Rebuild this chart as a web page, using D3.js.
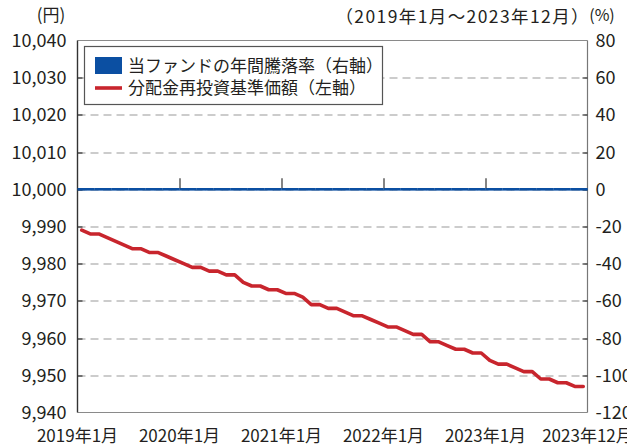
<!DOCTYPE html>
<html>
<head>
<meta charset="utf-8">
<script src="https://cdn.jsdelivr.net/npm/d3@7"></script>
<style>
  body { margin: 0; background: #fff; }
  text { font-family: "Noto Sans CJK JP", "Noto Sans", sans-serif; fill: #231f20; }
</style>
</head>
<body>
<div id="chart"></div>
<script>
// months 2019-01 .. 2023-12
var months = [];
for (var yr = 2019; yr <= 2023; yr++) {
  for (var m = 1; m <= 12; m++) months.push(yr + "年" + m + "月");
}

// 分配金再投資基準価額 (left axis, yen)
var navValues = [
  9989, 9988, 9988, 9987, 9986, 9985, 9984, 9984, 9983, 9983, 9982, 9981,
  9980, 9979, 9979, 9978, 9978, 9977, 9977, 9975, 9974, 9974, 9973, 9973,
  9972, 9972, 9971, 9969, 9969, 9968, 9968, 9967, 9966, 9966, 9965, 9964,
  9963, 9963, 9962, 9961, 9961, 9959, 9959, 9958, 9957, 9957, 9956, 9956,
  9954, 9953, 9953, 9952, 9951, 9951, 9949, 9949, 9948, 9948, 9947, 9947
];

// 当ファンドの年間騰落率 (right axis, %)
var rateValues = [];
for (var k = 0; k < months.length; k++) rateValues.push(0);

var leftTicks = [9940, 9950, 9960, 9970, 9980, 9990, 10000, 10010, 10020, 10030, 10040];
var rightTicks = [-120, -100, -80, -60, -40, -20, 0, 20, 40, 60, 80];
var xTickMonths = ["2020年1月", "2021年1月", "2022年1月", "2023年1月"];
var xLabels = ["2019年1月", "2020年1月", "2021年1月", "2022年1月", "2023年1月", "2023年12月"];

var svgWidth = 627;
var svgHeight = 446;
var margin = { top: 40.5, right: 39.5, bottom: 33.5, left: 77.5 };
var width = svgWidth - margin.left - margin.right;
var height = svgHeight - margin.top - margin.bottom;

var red = "#c8252d";
var blue = "#0b4fa2";

var svg = d3.select("#chart")
  .append("svg")
  .attr("width", svgWidth)
  .attr("height", svgHeight);

var chartGroup = svg.append("g")
  .attr("transform", `translate(${margin.left}, ${margin.top})`);

var x = d3.scaleBand()
  .domain(months)
  .range([0, width])
  .padding(0);

var yLeft = d3.scaleLinear()
  .domain([9940, 10040])
  .range([height, 0]);

var yRight = d3.scaleLinear()
  .domain([-120, 80])
  .range([height, 0]);

// dashed grid
chartGroup.selectAll(".grid")
  .data(leftTicks.slice(1, -1))
  .enter()
  .append("line")
  .attr("x1", 0)
  .attr("x2", width)
  .attr("y1", d => Math.round(yLeft(d)) + 0.5)
  .attr("y2", d => Math.round(yLeft(d)) + 0.5)
  .attr("stroke", "#9a9a9a")
  .attr("stroke-width", 1.2)
  .attr("stroke-dasharray", "8,5");

// frame
chartGroup.append("line").attr("x1", 0).attr("x2", width).attr("y1", 0).attr("y2", 0)
  .attr("stroke", "#8a8a8a").attr("stroke-width", 1.2);
chartGroup.append("line").attr("x1", 0).attr("x2", width).attr("y1", height).attr("y2", height)
  .attr("stroke", "#8a8a8a").attr("stroke-width", 1.2);
chartGroup.append("line").attr("x1", width).attr("x2", width).attr("y1", 0).attr("y2", height)
  .attr("stroke", "#777").attr("stroke-width", 1.2);
chartGroup.append("line").attr("x1", 0).attr("x2", 0).attr("y1", 0).attr("y2", height)
  .attr("stroke", "#333").attr("stroke-width", 1.4);

// inner ticks on both y axes
chartGroup.selectAll(".ltick")
  .data(leftTicks.slice(1, -1))
  .enter()
  .append("line")
  .attr("x1", 0).attr("x2", 5)
  .attr("y1", d => Math.round(yLeft(d)) + 0.5)
  .attr("y2", d => Math.round(yLeft(d)) + 0.5)
  .attr("stroke", "#333").attr("stroke-width", 1.2);

chartGroup.selectAll(".rtick")
  .data(rightTicks.slice(1, -1))
  .enter()
  .append("line")
  .attr("x1", width - 5).attr("x2", width)
  .attr("y1", d => Math.round(yRight(d)) + 0.5)
  .attr("y2", d => Math.round(yRight(d)) + 0.5)
  .attr("stroke", "#333").attr("stroke-width", 1.2);

// y labels
chartGroup.selectAll(".llabel")
  .data(leftTicks)
  .enter()
  .append("text")
  .attr("x", -11)
  .attr("y", d => yLeft(d))
  .attr("dy", "0.36em")
  .attr("text-anchor", "end")
  .attr("font-size", "18px")
  .text(d => d3.format(",")(d));

chartGroup.selectAll(".rlabel")
  .data(rightTicks)
  .enter()
  .append("text")
  .attr("x", width + 8)
  .attr("y", d => yRight(d))
  .attr("dy", "0.36em")
  .attr("font-size", "18px")
  .text(d => d);

// 年間騰落率 bars (all zero) drawn as a baseline band
chartGroup.selectAll(".bar")
  .data(rateValues)
  .enter()
  .append("rect")
  .attr("x", (d, i) => x(months[i]))
  .attr("width", x.bandwidth() + 0.2)
  .attr("y", d => Math.min(yRight(d), yRight(0)) - 1.3)
  .attr("height", d => Math.abs(yRight(d) - yRight(0)) + 2.6)
  .attr("fill", blue);

// year ticks pointing up from the zero line
chartGroup.selectAll(".xtick")
  .data(xTickMonths)
  .enter()
  .append("line")
  .attr("x1", d => Math.round(x(d)) + 0.5)
  .attr("x2", d => Math.round(x(d)) + 0.5)
  .attr("y1", yRight(0) - 11)
  .attr("y2", yRight(0) - 1)
  .attr("stroke", "#333")
  .attr("stroke-width", 1.2);

// x labels
chartGroup.selectAll(".xlabel")
  .data(xLabels)
  .enter()
  .append("text")
  .attr("x", (d, i) => i === xLabels.length - 1 ? width : x(d))
  .attr("y", height + 29)
  .attr("text-anchor", "middle")
  .attr("font-size", "17px")
  .text(d => d);

// NAV line
var line = d3.line()
  .x((d, i) => x(months[i]) + x.bandwidth() / 2)
  .y(d => yLeft(d));

chartGroup.append("path")
  .datum(navValues)
  .attr("d", line)
  .attr("fill", "none")
  .attr("stroke", red)
  .attr("stroke-width", 3.6)
  .attr("stroke-linejoin", "round")
  .attr("stroke-linecap", "round");

// legend
var legend = svg.append("g");
legend.append("rect")
  .attr("x", 84.5).attr("y", 46.5)
  .attr("width", 298).attr("height", 58)
  .attr("fill", "#fff")
  .attr("stroke", "#555")
  .attr("stroke-width", 1.2);
legend.append("rect")
  .attr("x", 95).attr("y", 57)
  .attr("width", 27).attr("height", 17)
  .attr("fill", blue);
legend.append("line")
  .attr("x1", 95).attr("x2", 122)
  .attr("y1", 88).attr("y2", 88)
  .attr("stroke", red).attr("stroke-width", 3.6);
legend.append("text")
  .attr("x", 128).attr("y", 65.5)
  .attr("dy", "0.36em")
  .attr("font-size", "17px")
  .text("当ファンドの年間騰落率（右軸）");
legend.append("text")
  .attr("x", 128).attr("y", 88)
  .attr("dy", "0.36em")
  .attr("font-size", "17px")
  .text("分配金再投資基準価額（左軸）");

// unit / period labels
svg.append("text")
  .attr("x", 51).attr("y", 15)
  .attr("dy", "0.36em")
  .attr("text-anchor", "middle")
  .attr("font-size", "17px")
  .text("(円)");

svg.append("text")
  .attr("x", 590).attr("y", 17)
  .attr("dy", "0.36em")
  .attr("text-anchor", "end")
  .attr("font-size", "17.5px")
  .attr("letter-spacing", "1.4px")
  .text("（2019年1月～2023年12月）");

svg.append("text")
  .attr("x", 602).attr("y", 15)
  .attr("dy", "0.36em")
  .attr("text-anchor", "middle")
  .attr("font-size", "16px")
  .text("(%)");
</script>
</body>
</html>
